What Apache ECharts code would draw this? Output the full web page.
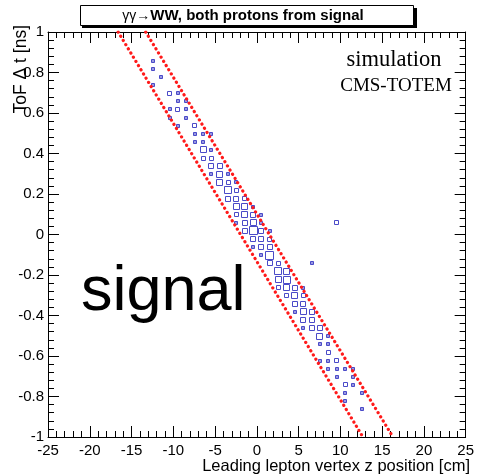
<!DOCTYPE html>
<html>
<head>
<meta charset="utf-8">
<script src="https://cdn.jsdelivr.net/npm/echarts@6/dist/echarts.min.js"></script>
<style>html,body{margin:0;padding:0;background:#fff}#c{width:477px;height:476px}</style>
</head>
<body>
<div id="c"></div>
<script>
// Bin centres (z in cm, Δt in ns) and bin contents of the box histogram
const binZ = [-12.5,-12.5,-11.5,-12.5,-10.5,-9.5,-9.5,-8.5,-10.5,-9.5,-8.5,-10.5,-8.5,-9.5,-7.5,-7.5,-6.5,-5.5,-7.5,-6.5,
  -6.5,-5.5,-6.5,-5.5,-5.5,-4.5,-5.5,-4.5,-3.5,-4.5,-3.5,-2.5,-3.5,-2.5,-3.5,-2.5,-1.5,-2.5,-1.5,-0.5,
  -2.5,-1.5,-0.5,0.5,-2.5,-1.5,-0.5,0.5,9.5,-1.5,-0.5,0.5,1.5,-0.5,0.5,1.5,-0.5,0.5,1.5,0.5,
  1.5,1.5,2.5,6.5,2.5,3.5,2.5,3.5,2.5,3.5,4.5,5.5,3.5,4.5,5.5,4.5,5.5,4.5,5.5,6.5,
  5.5,6.5,5.5,6.5,7.5,7.5,8.5,7.5,8.5,8.5,7.5,8.5,9.5,8.5,9.5,10.5,11.5,9.5,11.5,10.5,
  11.5,10.5,12.5,10.5,12.5];
const binT = [0.86,0.82,0.78,0.74,0.70,0.70,0.66,0.66,0.62,0.62,0.62,0.58,0.58,0.54,0.54,0.50,0.50,0.50,0.46,0.46,
  0.42,0.42,0.38,0.38,0.34,0.34,0.30,0.30,0.30,0.26,0.26,0.26,0.22,0.22,0.18,0.18,0.18,0.14,0.14,0.14,
  0.10,0.10,0.10,0.10,0.06,0.06,0.06,0.06,0.06,0.02,0.02,0.02,0.02,-0.02,-0.02,-0.02,-0.06,-0.06,-0.06,-0.10,
  -0.10,-0.14,-0.14,-0.14,-0.18,-0.18,-0.22,-0.22,-0.26,-0.26,-0.26,-0.26,-0.30,-0.30,-0.30,-0.34,-0.34,-0.38,-0.38,-0.38,
  -0.42,-0.42,-0.46,-0.46,-0.46,-0.50,-0.50,-0.54,-0.54,-0.58,-0.62,-0.62,-0.62,-0.66,-0.66,-0.66,-0.66,-0.70,-0.70,-0.74,
  -0.74,-0.78,-0.78,-0.82,-0.86];
const binCount = [1,1,1,1,2,1,1,1,1,2,1,1,1,1,2,1,1,1,1,1,
  4,1,2,2,3,3,1,4,1,4,2,1,5,2,3,3,2,4,4,1,
  2,4,3,1,1,3,4,1,2,3,6,3,1,3,3,2,1,3,3,1,
  6,3,2,1,5,4,4,5,2,4,3,1,2,4,2,3,3,1,4,3,
  3,3,1,3,3,4,1,1,1,2,1,1,2,1,1,1,1,1,1,2,
  1,1,1,1,1];
// Selection band edges (z, Δt end points)
const bandLow  = [[-16.6, 1], [12.7, -1]];
const bandHigh = [[-13.3, 1], [16.3, -1]];
// Axis ranges and ticks
const zRange = [-25, 25], zStep = 5;
const tRange = [-1, 1], tStep = 0.2;

const boxData = binZ.map((z, i) => [z, binT[i], binCount[i]]);
const FONT = 'Liberation Sans';
const chart = echarts.init(document.getElementById('c'), null, {renderer: 'canvas'});

function axisCommon(showLabel, isX) {
  return {
    type: 'value',
    min: isX ? zRange[0] : tRange[0],
    max: isX ? zRange[1] : tRange[1],
    interval: isX ? zStep : tStep,
    axisLine: {show: true, onZero: false, lineStyle: {color: '#000', width: 1}},
    axisTick: {show: true, inside: true, length: 11, lineStyle: {color: '#000', width: 1}},
    minorTick: {show: true, splitNumber: 5, length: 6, lineStyle: {color: '#000', width: 1}},
    splitLine: {show: false},
    minorSplitLine: {show: false},
    axisLabel: {
      show: showLabel, color: '#000', fontFamily: FONT,
      fontSize: 15, margin: isX ? 6 : 4,
      showMinLabel: true, showMaxLabel: true, hideOverlap: false,
      formatter: v => isX ? String(Math.round(v)) : String(+v.toFixed(1))
    }
  };
}

const option = {
  animation: false,
  backgroundColor: '#fff',
  grid: {left: 48, top: 32, width: 423, height: 405, containLabel: false},
  xAxis: [
    Object.assign(axisCommon(true, true), {position: 'bottom'}),
    Object.assign(axisCommon(false, true), {position: 'top'})
  ],
  yAxis: [
    Object.assign(axisCommon(true, false), {position: 'left'}),
    Object.assign(axisCommon(false, false), {position: 'right'})
  ],
  series: [
    {
      type: 'custom',
      coordinateSystem: 'cartesian2d',
      data: boxData,
      encode: {x: 0, y: 1},
      renderItem: function (params, api) {
        const c = api.coord([api.value(0), api.value(1)]);
        const cell = api.size([1, 0.04]);
        const n = api.value(2);
        const k = Math.min(cell[0], cell[1]) * (0.26 + 0.12 * n);
        return {
          type: 'rect',
          shape: {x: Math.round(c[0] - k / 2) + 0.5, y: Math.round(c[1] - k / 2) + 0.5, width: Math.round(k), height: Math.round(k)},
          style: {fill: n <= 1 ? 'rgba(70,70,200,0.55)' : 'rgba(0,0,0,0)', stroke: '#4a4ac8', lineWidth: 1}
        };
      },
      z: 3
    },
    {
      type: 'line', data: bandLow, symbol: 'none', z: 4,
      lineStyle: {color: '#ff1a1a', width: 3.2, type: [0.1, 4.8], cap: 'round'}
    },
    {
      type: 'line', data: bandHigh, symbol: 'none', z: 4,
      lineStyle: {color: '#ff1a1a', width: 3.2, type: [0.1, 4.8], cap: 'round'}
    }
  ],
  graphic: [
    {type: 'rect', shape: {x: 82, y: 8, width: 335, height: 20}, style: {fill: '#000'}, z: 10},
    {type: 'rect', shape: {x: 80.5, y: 5.5, width: 333, height: 20}, style: {fill: '#fff', stroke: '#000', lineWidth: 1}, z: 11},
    {type: 'text', x: 243, y: 16, z: 12,
      style: {text: '{a|γγ→}{b|WW, both protons from signal}', align: 'center', verticalAlign: 'middle',
        rich: {a: {fontFamily: FONT, fontSize: 14, fill: '#000'}, b: {fontFamily: FONT, fontSize: 15, fontWeight: 'bold', fill: '#000'}}}},
    {type: 'text', x: 394, y: 60, z: 12,
      style: {text: 'simulation', fontFamily: 'Liberation Serif', fontSize: 22.5, fill: '#000', align: 'center', verticalAlign: 'middle'}},
    {type: 'text', x: 396, y: 86, z: 12,
      style: {text: 'CMS-TOTEM', fontFamily: 'Liberation Serif', fontSize: 19, fill: '#000', align: 'center', verticalAlign: 'middle'}},
    {type: 'text', x: 81, y: 293, z: 12,
      style: {text: 'signal', fontFamily: FONT, fontSize: 63, fill: '#000', align: 'left', verticalAlign: 'middle'}},
    {type: 'text', x: 470, y: 466, z: 12,
      style: {text: 'Leading lepton vertex z position [cm]', fontFamily: FONT, fontSize: 16.5, fill: '#000', align: 'right', verticalAlign: 'middle'}},
    {type: 'text', x: 21, y: 25, rotation: Math.PI / 2, z: 12,
      style: {text: 'ToF Δ t [ns]', fontFamily: FONT, fontSize: 17.5, fill: '#000', align: 'right', verticalAlign: 'middle'}}
  ]
};
chart.setOption(option);
</script>
</body>
</html>
